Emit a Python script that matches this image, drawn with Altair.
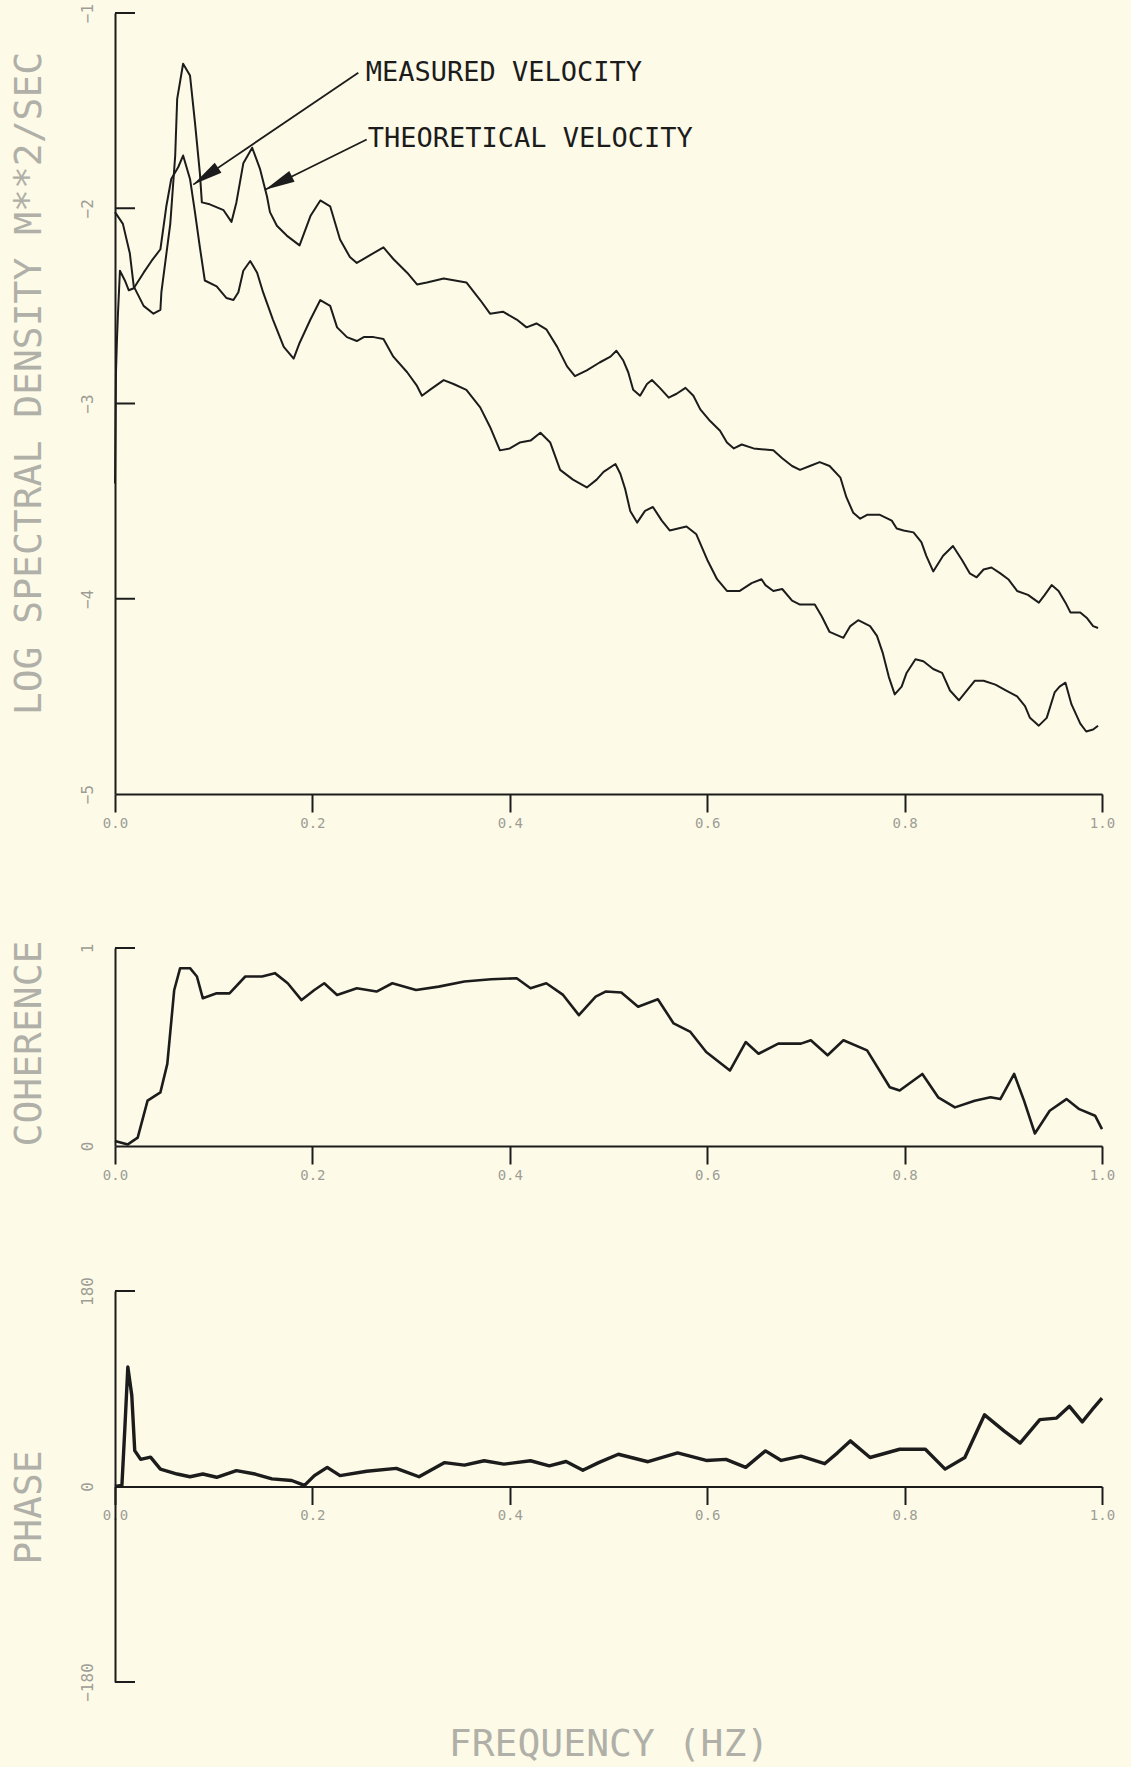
import math
import altair as alt
import pandas as pd

# ---------------- data ----------------
X_TICKS = [0.0, 0.2, 0.4, 0.6, 0.8, 1.0]

# upper curve of the top panel (theoretical velocity)
theo_f = [0.000, 0.008, 0.015, 0.019, 0.029, 0.039, 0.046, 0.047, 0.056, 0.061,
          0.063, 0.069, 0.076, 0.081, 0.086, 0.088, 0.096, 0.110, 0.118, 0.123,
          0.130, 0.139, 0.147, 0.154, 0.157, 0.164, 0.174, 0.187, 0.198, 0.208,
          0.218, 0.228, 0.238, 0.245, 0.255, 0.272, 0.282, 0.296, 0.306, 0.316,
          0.333, 0.356, 0.370, 0.380, 0.393, 0.407, 0.417, 0.427, 0.437, 0.448,
          0.458, 0.466, 0.478, 0.491, 0.502, 0.508, 0.515, 0.520, 0.525, 0.532,
          0.539, 0.544, 0.552, 0.561, 0.569, 0.578, 0.586, 0.593, 0.603, 0.613,
          0.620, 0.627, 0.635, 0.647, 0.667, 0.676, 0.686, 0.694, 0.704, 0.714,
          0.724, 0.735, 0.741, 0.748, 0.755, 0.762, 0.775, 0.787, 0.792, 0.799,
          0.809, 0.817, 0.822, 0.829, 0.839, 0.849, 0.858, 0.866, 0.873, 0.880,
          0.888, 0.897, 0.905, 0.914, 0.925, 0.936, 0.942, 0.949, 0.956, 0.963,
          0.968, 0.978, 0.985, 0.991, 0.996]
theo_v = [-2.02, -2.08, -2.23, -2.40, -2.50, -2.54, -2.52, -2.43, -2.08, -1.73,
          -1.44, -1.26, -1.32, -1.56, -1.82, -1.97, -1.98, -2.01, -2.07, -1.97,
          -1.77, -1.69, -1.80, -1.94, -2.02, -2.09, -2.14, -2.19, -2.04, -1.96,
          -1.99, -2.16, -2.25, -2.28, -2.25, -2.20, -2.26, -2.33, -2.39, -2.38,
          -2.36, -2.38, -2.47, -2.54, -2.53, -2.57, -2.61, -2.59, -2.62, -2.71,
          -2.81, -2.86, -2.83, -2.79, -2.76, -2.73, -2.78, -2.84, -2.93, -2.96,
          -2.90, -2.88, -2.92, -2.97, -2.95, -2.92, -2.96, -3.03, -3.09, -3.14,
          -3.20, -3.23, -3.21, -3.23, -3.24, -3.28, -3.32, -3.34, -3.32, -3.30,
          -3.32, -3.38, -3.48, -3.56, -3.59, -3.57, -3.57, -3.60, -3.64, -3.65,
          -3.66, -3.71, -3.78, -3.86, -3.78, -3.73, -3.80, -3.87, -3.89, -3.85,
          -3.84, -3.87, -3.90, -3.96, -3.98, -4.02, -3.98, -3.93, -3.96, -4.02,
          -4.07, -4.07, -4.10, -4.14, -4.15]

# lower curve of the top panel (measured velocity)
meas_f = [0.000, 0.001, 0.002, 0.003, 0.005, 0.010, 0.014, 0.019, 0.029, 0.037,
          0.046, 0.052, 0.057, 0.064, 0.069, 0.076, 0.081, 0.086, 0.091, 0.103,
          0.113, 0.120, 0.125, 0.130, 0.137, 0.144, 0.150, 0.160, 0.171, 0.181,
          0.187, 0.198, 0.208, 0.218, 0.225, 0.235, 0.245, 0.252, 0.262, 0.272,
          0.282, 0.296, 0.306, 0.311, 0.319, 0.333, 0.343, 0.356, 0.370, 0.380,
          0.390, 0.400, 0.410, 0.421, 0.431, 0.441, 0.451, 0.464, 0.478, 0.488,
          0.495, 0.507, 0.512, 0.517, 0.522, 0.529, 0.537, 0.545, 0.554, 0.562,
          0.579, 0.589, 0.600, 0.610, 0.620, 0.633, 0.645, 0.655, 0.659, 0.667,
          0.676, 0.686, 0.694, 0.709, 0.716, 0.724, 0.738, 0.745, 0.753, 0.765,
          0.772, 0.778, 0.784, 0.790, 0.797, 0.802, 0.811, 0.819, 0.829, 0.838,
          0.846, 0.855, 0.863, 0.871, 0.880, 0.892, 0.903, 0.914, 0.922, 0.927,
          0.936, 0.944, 0.952, 0.957, 0.963, 0.969, 0.978, 0.984, 0.991, 0.996]
meas_v = [-3.41, -2.84, -2.67, -2.54, -2.32, -2.37, -2.42, -2.41, -2.33, -2.27,
          -2.21, -1.99, -1.85, -1.79, -1.73, -1.85, -2.02, -2.20, -2.37, -2.40,
          -2.46, -2.47, -2.43, -2.32, -2.27, -2.33, -2.43, -2.57, -2.71, -2.77,
          -2.69, -2.57, -2.47, -2.50, -2.61, -2.66, -2.68, -2.66, -2.66, -2.67,
          -2.76, -2.84, -2.91, -2.96, -2.93, -2.88, -2.90, -2.93, -3.02, -3.12,
          -3.24, -3.23, -3.20, -3.19, -3.15, -3.20, -3.34, -3.39, -3.43, -3.39,
          -3.35, -3.31, -3.36, -3.44, -3.55, -3.61, -3.55, -3.53, -3.60, -3.65,
          -3.63, -3.67, -3.80, -3.90, -3.96, -3.96, -3.92, -3.90, -3.93, -3.96,
          -3.95, -4.01, -4.03, -4.03, -4.09, -4.17, -4.20, -4.14, -4.11, -4.14,
          -4.19, -4.28, -4.40, -4.49, -4.45, -4.38, -4.31, -4.32, -4.36, -4.38,
          -4.47, -4.52, -4.47, -4.42, -4.42, -4.44, -4.47, -4.50, -4.55, -4.61,
          -4.65, -4.61, -4.48, -4.45, -4.43, -4.54, -4.64, -4.68, -4.67, -4.65]

coh_f = [0.000, 0.013, 0.023, 0.033, 0.046, 0.053, 0.060, 0.066, 0.076, 0.083,
         0.089, 0.103, 0.116, 0.132, 0.149, 0.162, 0.175, 0.189, 0.202, 0.212,
         0.225, 0.245, 0.265, 0.281, 0.305, 0.328, 0.354, 0.381, 0.407, 0.421,
         0.437, 0.454, 0.470, 0.487, 0.497, 0.513, 0.530, 0.550, 0.566, 0.583,
         0.599, 0.623, 0.639, 0.652, 0.672, 0.695, 0.705, 0.722, 0.738, 0.762,
         0.785, 0.795, 0.818, 0.834, 0.851, 0.871, 0.887, 0.897, 0.911, 0.921,
         0.932, 0.947, 0.964, 0.977, 0.993, 1.000]
coh_v = [0.025, 0.008, 0.042, 0.229, 0.271, 0.415, 0.788, 0.898, 0.898, 0.856,
         0.746, 0.771, 0.771, 0.856, 0.856, 0.873, 0.822, 0.737, 0.788, 0.822,
         0.763, 0.797, 0.780, 0.822, 0.788, 0.805, 0.831, 0.842, 0.847, 0.797,
         0.822, 0.763, 0.661, 0.754, 0.780, 0.775, 0.703, 0.741, 0.619, 0.576,
         0.475, 0.381, 0.525, 0.466, 0.517, 0.517, 0.534, 0.458, 0.534, 0.483,
         0.297, 0.280, 0.364, 0.246, 0.195, 0.229, 0.246, 0.237, 0.364, 0.229,
         0.063, 0.178, 0.237, 0.186, 0.153, 0.085]

phase_f = [0.000, 0.007, 0.010, 0.013, 0.017, 0.020, 0.026, 0.036, 0.046, 0.063,
           0.076, 0.089, 0.103, 0.123, 0.142, 0.159, 0.179, 0.192, 0.202, 0.215,
           0.228, 0.255, 0.285, 0.308, 0.334, 0.354, 0.374, 0.394, 0.421, 0.440,
           0.457, 0.474, 0.490, 0.510, 0.540, 0.570, 0.599, 0.619, 0.639, 0.659,
           0.675, 0.695, 0.719, 0.732, 0.745, 0.765, 0.795, 0.821, 0.841, 0.861,
           0.881, 0.901, 0.917, 0.937, 0.954, 0.967, 0.980, 0.990, 1.000]
phase_v = [0, 1, 54, 110, 84, 33, 25, 27, 16, 11.5,
           9, 11.5, 8.5, 14.6, 11.5, 7, 5.5, 1, 10, 17.6,
           10, 14, 16.7, 9, 22, 19.7, 23.7, 20.6, 23.7, 19,
           23, 15, 22, 29.7, 22.8, 31, 24, 25, 17.6, 32.8,
           24, 28, 21, 31, 42, 26.7, 34.3, 34.3, 16, 26.7,
           66, 51, 40, 61.6, 63, 73.8, 59.5, 70.7, 81.3]

# annotation labels and arrows (data units of the top panel)
ann_labels = ["MEASURED VELOCITY", "THEORETICAL VELOCITY"]
ann_text_f = [0.254, 0.256]
ann_text_v = [-1.350, -1.686]
arrow_start_f = [0.2465, 0.255]
arrow_start_v = [-1.306, -1.648]
arrow_tip_f = [0.0793, 0.152]
arrow_tip_v = [-1.879, -1.905]

# ---------------- layout / style ----------------
W, H = 987, 1669
TOP_RANGE = [781, 0]
MID_RANGE = [1133, 935]
BOT_RANGE = [1669, 1278]
BG = "#FDFBE7"
INK = "#1c1c1c"
LABEL = "#9d9d96"
TITLE = "#b0b0a9"
MONO = "DejaVu Sans Mono"
ARROW = "M0,0L-1,-0.2L-1,0.2Z"

px_x = W / 1.0
px_y = (TOP_RANGE[0] - TOP_RANGE[1]) / 4.0
ann_angle = [math.degrees(math.atan2(-(tv - sv) * px_y, (tf - sf) * px_x))
             for sf, sv, tf, tv in zip(arrow_start_f, arrow_start_v, arrow_tip_f, arrow_tip_v)]


def x_axis(offset, title=None, title_y=None):
    kw = dict(orient="bottom", values=X_TICKS, format=".1f", offset=offset,
              domainColor=INK, domainWidth=2, tickColor=INK, tickWidth=2, tickSize=18,
              labelFont=MONO, labelFontSize=14, labelColor=LABEL, labelPadding=4,
              labelFlush=False, grid=False)
    if title is None:
        kw["title"] = None
    else:
        kw.update(title=title, titleFont=MONO, titleFontSize=38, titleFontWeight="normal",
                  titleColor=TITLE, titleY=title_y, titleAlign="center", titleBaseline="middle")
    return alt.Axis(**kw)


def y_axis(values, title, title_y):
    return alt.Axis(orient="left", values=values, format="d", ticks=False,
                    domainColor=INK, domainWidth=2,
                    labelAngle=270, labelAlign="center", labelBaseline="bottom", labelPadding=20,
                    labelFont=MONO, labelFontSize=16, labelColor=LABEL, grid=False,
                    title=title, titleAngle=270, titleX=-86, titleY=title_y,
                    titleAlign="center", titleBaseline="middle", titleFont=MONO,
                    titleFontSize=38, titleFontWeight="normal", titleColor=TITLE)


# ---------------- top panel ----------------
X_TOP = alt.X("f:Q", scale=alt.Scale(domain=[0, 1]), axis=x_axis(-888))
Y_TOP = alt.Y("v:Q", scale=alt.Scale(domain=[-5, -1], range=TOP_RANGE),
              axis=y_axis([-1, -2, -3, -4, -5], "LOG SPECTRAL DENSITY  M**2/SEC", 370))

top_df = pd.concat([
    pd.DataFrame({"f": theo_f, "v": theo_v, "s": "theoretical"}),
    pd.DataFrame({"f": meas_f, "v": meas_v, "s": "measured"}),
])
top_lines = alt.Chart(top_df).mark_line(color=INK, strokeWidth=2, strokeJoin="round").encode(
    x=X_TOP, y=Y_TOP, detail="s:N")
top_ticks = alt.Chart(pd.DataFrame({"v": [-1, -2, -3, -4]})).mark_rule(
    color=INK, strokeWidth=2).encode(y=Y_TOP, x=alt.value(0), x2=alt.value(20))
ann_df = pd.DataFrame({"f": ann_text_f, "v": ann_text_v, "label": ann_labels})
ann_text = alt.Chart(ann_df).mark_text(align="left", baseline="alphabetic", font=MONO,
                                        fontSize=27, color=INK).encode(x=X_TOP, y=Y_TOP, text="label:N")
arr_df = pd.DataFrame({"f": arrow_start_f, "v": arrow_start_v, "f2": arrow_tip_f,
                       "v2": arrow_tip_v, "ang": ann_angle})
arr_lines = alt.Chart(arr_df).mark_rule(color=INK, strokeWidth=1.8).encode(
    x=X_TOP, y=Y_TOP, x2="f2:Q", y2="v2:Q")
head_df = pd.DataFrame({"f": arrow_tip_f, "v": arrow_tip_v, "ang": ann_angle})
arr_heads = alt.Chart(head_df).mark_point(shape=ARROW, size=3600, filled=True, color=INK,
                                          opacity=1, strokeWidth=0).encode(
    x=X_TOP, y=Y_TOP, angle=alt.Angle("ang:Q", scale=None))
top = alt.layer(top_lines, top_ticks, arr_lines, arr_heads, ann_text)

# ---------------- coherence panel ----------------
X_MID = alt.X("f:Q", scale=alt.Scale(domain=[0, 1]), axis=x_axis(-536))
Y_MID = alt.Y("v:Q", scale=alt.Scale(domain=[0, 1], range=MID_RANGE),
              axis=y_axis([1, 0], "COHERENCE", 1030))
mid_line = alt.Chart(pd.DataFrame({"f": coh_f, "v": coh_v})).mark_line(
    color=INK, strokeWidth=2.6, strokeJoin="round").encode(x=X_MID, y=Y_MID)
mid_ticks = alt.Chart(pd.DataFrame({"v": [1]})).mark_rule(color=INK, strokeWidth=2).encode(
    y=Y_MID, x=alt.value(0), x2=alt.value(20))
mid = alt.layer(mid_line, mid_ticks)

# ---------------- phase panel ----------------
X_BOT = alt.X("f:Q", scale=alt.Scale(domain=[0, 1]),
              axis=x_axis(-195.5, "FREQUENCY (HZ)", 258))
Y_BOT = alt.Y("v:Q", scale=alt.Scale(domain=[-180, 180], range=BOT_RANGE),
              axis=y_axis([180, 0, -180], "PHASE", 1494))
bot_line = alt.Chart(pd.DataFrame({"f": phase_f, "v": phase_v})).mark_line(
    color=INK, strokeWidth=3.4, strokeJoin="round").encode(x=X_BOT, y=Y_BOT)
bot_ticks = alt.Chart(pd.DataFrame({"v": [180, -180]})).mark_rule(color=INK, strokeWidth=2).encode(
    y=Y_BOT, x=alt.value(0), x2=alt.value(20))
bot = alt.layer(bot_line, bot_ticks)

chart = alt.layer(top, mid, bot).resolve_scale(
    x="independent", y="independent"
).resolve_axis(
    x="independent", y="independent"
).properties(
    width=W, height=H,
    padding={"left": 115, "top": 13, "right": 29, "bottom": 85},
    autosize=alt.AutoSizeParams(type="none"),
    background=BG,
).configure_view(stroke=None)

chart.save("out.html", embed_options={"renderer": "svg", "actions": False})
